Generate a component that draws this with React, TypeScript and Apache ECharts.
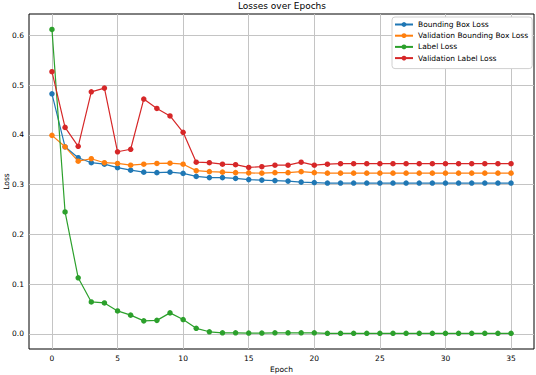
import React, { useEffect, useRef } from "react";
import * as echarts from "echarts";

const epochs = [0,1,2,3,4,5,6,7,8,9,10,11,12,13,14,15,16,17,18,19,20,21,22,23,24,25,26,27,28,29,30,31,32,33,34,35];
const bboxLoss = [0.4825,0.376,0.354,0.344,0.341,0.334,0.329,0.325,0.324,0.325,0.3225,0.3165,0.314,0.314,0.3125,0.310,0.309,0.308,0.307,0.305,0.304,0.303,0.303,0.303,0.303,0.303,0.303,0.303,0.303,0.303,0.303,0.303,0.303,0.303,0.303,0.303];
const valBboxLoss = [0.399,0.376,0.347,0.352,0.344,0.3425,0.339,0.341,0.3425,0.343,0.341,0.328,0.326,0.325,0.324,0.3235,0.323,0.324,0.324,0.326,0.324,0.323,0.323,0.323,0.323,0.323,0.323,0.323,0.323,0.323,0.323,0.323,0.323,0.323,0.323,0.323];
const labelLoss = [0.612,0.245,0.1125,0.064,0.062,0.046,0.0375,0.026,0.027,0.042,0.0287,0.011,0.004,0.002,0.002,0.0015,0.0015,0.002,0.002,0.002,0.002,0.001,0.001,0.001,0.001,0.001,0.001,0.001,0.001,0.001,0.001,0.001,0.001,0.001,0.001,0.001];
const valLabelLoss = [0.527,0.415,0.377,0.4865,0.494,0.366,0.371,0.472,0.453,0.438,0.405,0.345,0.344,0.341,0.340,0.3345,0.336,0.339,0.339,0.345,0.339,0.341,0.342,0.342,0.342,0.342,0.342,0.342,0.342,0.342,0.342,0.342,0.342,0.342,0.342,0.342];
const xTicks = [0,5,10,15,20,25,30,35];
const yTicks = [0,0.1,0.2,0.3,0.4,0.5,0.6];
const seriesNames = ["Bounding Box Loss","Validation Bounding Box Loss","Label Loss","Validation Label Loss"];
const colors = ["#1f77b4","#ff7f0e","#2ca02c","#d62728"];

const FONT = "DejaVu Sans";

export default function App() {
  const ref = useRef<HTMLDivElement>(null);
  useEffect(() => {
    if (!ref.current) return;
    const chart = echarts.init(ref.current, undefined, { renderer: "svg" });
    const allSeries = [bboxLoss, valBboxLoss, labelLoss, valLabelLoss];
    const lineSeries = allSeries.map((vals, i) => ({
      name: seriesNames[i],
      type: "line",
      data: epochs.map((e, j) => [e, vals[j]]),
      symbol: "circle",
      symbolSize: 5.5,
      showSymbol: true,
      itemStyle: { color: colors[i] },
      lineStyle: { color: colors[i], width: 1.2 },
      z: 3 + i,
    }));
    const gridColor = "#c4c4c4";
    const gridSeries = {
      name: "__grid",
      type: "line",
      data: [],
      silent: true,
      z: 1,
      markLine: {
        silent: true,
        z: 1,
        symbol: ["none", "none"],
        label: { show: false },
        lineStyle: { color: gridColor, width: 1, type: "solid" },
        data: [
          ...xTicks.map((x) => ({ xAxis: x })),
          ...yTicks.map((y) => ({ yAxis: y })),
        ],
      },
    };
    chart.setOption({
      animation: false,
      backgroundColor: "#ffffff",
      color: colors,
      title: {
        text: "Losses over Epochs",
        left: "282",
        textAlign: "center",
        top: 1,
        padding: 0,
        textStyle: { fontFamily: FONT, fontSize: 9, fontWeight: "normal", color: "#000" },
      },
      legend: {
        data: seriesNames,
        orient: "vertical",
        left: 392,
        top: 17,
        z: 50,
        itemWidth: 18,
        itemHeight: 6,
        itemGap: 2.2,
        padding: [3, 4, 6, 2],
        backgroundColor: "#ffffff",
        borderColor: "#d0d0d0",
        borderWidth: 1,
        borderRadius: 3,
        textStyle: { fontFamily: FONT, fontSize: 7.5, color: "#000", lineHeight: 9 },
      },
      grid: {
        left: 29,
        right: 2,
        top: 14,
        bottom: 26,
        show: true,
        containLabel: false,
        outerBoundsMode: "none",
        borderColor: "#000",
        borderWidth: 1,
        backgroundColor: "transparent",
      },
      xAxis: {
        type: "value",
        min: -1.75,
        max: 36.75,
        name: "Epoch",
        nameLocation: "middle",
        nameGap: 16,
        nameMoveOverlap: false,
        nameTextStyle: { fontFamily: FONT, fontSize: 7.5, color: "#000" },
        axisLine: { show: false },
        axisTick: { show: true, customValues: xTicks, length: 3, lineStyle: { color: "#000" } },
        axisLabel: { customValues: xTicks, fontFamily: FONT, fontSize: 7.5, color: "#000", margin: 5 },
        splitLine: { show: false },
      },
      yAxis: {
        type: "value",
        min: -0.0306,
        max: 0.643,
        name: "Loss",
        nameLocation: "middle",
        nameGap: 19,
        nameMoveOverlap: false,
        nameTextStyle: { fontFamily: FONT, fontSize: 7.5, color: "#000" },
        axisLine: { show: false },
        axisTick: { show: true, customValues: yTicks, length: 3, lineStyle: { color: "#000" } },
        axisLabel: {
          customValues: yTicks,
          fontFamily: FONT,
          fontSize: 7.5,
          color: "#000",
          margin: 5,
          formatter: (v: number) => v.toFixed(1),
        },
        splitLine: { show: false },
      },
      series: [gridSeries, ...lineSeries],
    });
    return () => chart.dispose();
  }, []);
  return <div ref={ref} style={{ width: 536, height: 375, position: "absolute", left: 0, top: 0 }} />;
}
